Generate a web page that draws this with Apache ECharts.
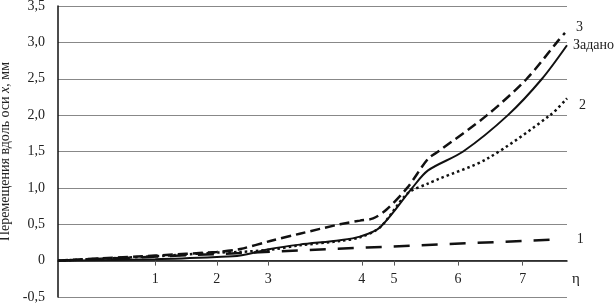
<!DOCTYPE html>
<html>
<head>
<meta charset="utf-8">
<script src="https://cdn.jsdelivr.net/npm/echarts@6/dist/echarts.min.js"></script>
<style>
  html, body { margin: 0; padding: 0; background: #fff; }
  #chart { width: 615px; height: 303px; }
</style>
</head>
<body>
<div id="chart"></div>
<script>
// данные (x в условных единицах 0..10)
var tickPos = [1.91, 3.12, 4.13, 5.97, 6.6, 7.86, 9.13];
var tickLabels = ['1', '2', '3', '4', '5', '6', '7'];

var line1 = [[0, 0], [3.12, 0.09], [6.07, 0.18], [9.8, 0.29]];
var line2 = [[0, 0], [1.91, 0.06], [3.12, 0.11], [3.58, 0.12], [4.17, 0.15], [4.75, 0.21], [5.54, 0.27], [5.93, 0.32],
    [6.33, 0.46], [6.86, 0.92], [7.27, 1.06], [7.47, 1.12], [8.43, 1.4], [9.67, 2.0], [10.0, 2.23]];
var line3 = [[0, 0], [1.91, 0.07], [3.12, 0.12], [3.58, 0.16], [4.17, 0.27], [4.75, 0.37], [5.54, 0.5], [5.93, 0.55],
    [6.19, 0.58], [6.45, 0.7], [6.86, 1.0], [7.27, 1.4], [7.47, 1.5], [8.43, 2.0], [9.21, 2.5], [9.8, 3.0], [9.96, 3.13]];
var lineSet = [[0, 0], [1.91, 0.02], [3.12, 0.05], [3.58, 0.07], [4.17, 0.16], [4.75, 0.22], [5.54, 0.28], [5.93, 0.33],
    [6.33, 0.46], [6.96, 1.0], [7.27, 1.24], [7.96, 1.5], [8.84, 2.0], [9.51, 2.5], [10.0, 2.96]];

var serif = '"Liberation Serif", "DejaVu Serif", serif';

var myChart = echarts.init(document.getElementById('chart'));

function endLbl(text, off) {
    return {
        show: true,
        formatter: text,
        offset: off,
        color: '#222',
        fontFamily: serif,
        fontSize: 14
    };
}

var option = {
    animation: false,
    grid: { left: 58, right: 48, top: 6, bottom: 6, containLabel: false, outerBoundsMode: 'none' },
    xAxis: {
        type: 'value',
        min: 0,
        max: 10,
        position: 'bottom',
        offset: -36.4,
        splitLine: { show: false },
        axisLine: { onZero: false, lineStyle: { color: '#111', width: 1.5 } },
        axisTick: { customValues: tickPos, length: 5, lineStyle: { color: '#555' } },
        axisLabel: {
            customValues: tickPos,
            margin: 12,
            color: '#222',
            fontFamily: serif,
            fontSize: 14,
            formatter: function (v) {
                var best = 0;
                for (var i = 0; i < tickPos.length; i++) {
                    if (Math.abs(tickPos[i] - v) < Math.abs(tickPos[best] - v)) best = i;
                }
                return tickLabels[best];
            }
        }
    },
    yAxis: {
        type: 'value',
        min: -0.5,
        max: 3.5,
        interval: 0.5,
        name: 'Перемещения вдоль оси {i|x}, мм',
        nameLocation: 'middle',
        nameGap: 42,
        nameTextStyle: {
            color: '#222',
            fontFamily: serif,
            fontSize: 14,
            rich: { i: { fontStyle: 'italic', fontFamily: serif, fontSize: 14, color: '#222' } }
        },
        axisLine: { show: true, onZero: false, lineStyle: { color: '#111', width: 1.5 } },
        axisTick: { show: false },
        splitLine: { lineStyle: { color: '#888', width: 1 } },
        axisLabel: {
            margin: 13,
            color: '#222',
            fontFamily: serif,
            fontSize: 14,
            formatter: function (v) {
                if (v === 0) return '0';
                return v.toFixed(1).replace('.', ',');
            }
        }
    },
    graphic: [{
        type: 'text',
        left: 572,
        top: 272,
        style: { text: 'η', font: '15px ' + serif, fill: '#222' }
    }],
    series: [
        {
            name: '1',
            type: 'line',
            data: line1,
            symbol: 'none',
            lineStyle: { color: '#111', width: 2.5, type: [16, 12] },
            endLabel: endLbl('1', [12, 0])
        },
        {
            name: '2',
            type: 'line',
            data: line2,
            symbol: 'none',
            smooth: 0.3,
            lineStyle: { color: '#111', width: 2.5, type: [2.5, 3] },
            endLabel: endLbl('2', [4, 7])
        },
        {
            name: '3',
            type: 'line',
            data: line3,
            symbol: 'none',
            smooth: 0.3,
            lineStyle: { color: '#111', width: 2.5, type: [10, 5] },
            endLabel: endLbl('3', [3, -6])
        },
        {
            name: 'Задано',
            type: 'line',
            data: lineSet,
            symbol: 'none',
            smooth: 0.3,
            lineStyle: { color: '#111', width: 2 },
            endLabel: endLbl('Задано', [-2, 0])
        }
    ]
};

myChart.setOption(option);
</script>
</body>
</html>
